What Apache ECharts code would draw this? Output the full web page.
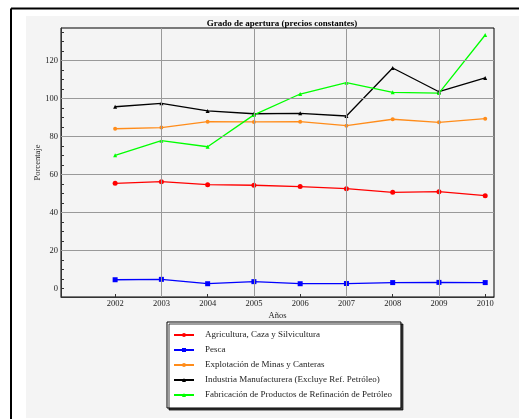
<!DOCTYPE html>
<html><head><meta charset="utf-8">
<script src="https://cdn.jsdelivr.net/npm/echarts@6/dist/echarts.min.js"></script>
<style>html,body{margin:0;padding:0;background:#fff}#c{width:519px;height:419px}</style>
</head><body><div id="c"></div>
<script>
const years = [2002, 2003, 2004, 2005, 2006, 2007, 2008, 2009, 2010];
const seriesNames = [
  'Agricultura, Caza y Silvicultura',
  'Pesca',
  'Explotación de Minas y Canteras',
  'Industria Manufacturera (Excluye Ref. Petróleo)',
  'Fabricación de Productos de Refinación de Petróleo'
];
const agricultura = [55.3, 56.2, 54.6, 54.3, 53.6, 52.5, 50.6, 50.9, 48.8];
const pesca = [4.5, 4.7, 2.4, 3.5, 2.4, 2.5, 3.0, 3.1, 3.0];
const minas = [84.1, 84.7, 87.8, 87.7, 87.8, 85.7, 89.1, 87.5, 89.4];
const industria = [95.7, 97.5, 93.5, 92.0, 92.2, 90.8, 116.1, 103.6, 110.9];
const refinacion = [70.1, 77.8, 74.6, 91.4, 102.4, 108.4, 103.3, 102.9, 133.5];
const yTickLabels = [0, 20, 40, 60, 80, 100, 120];
const yMinorTicks = [0,5,10,15,20,25,30,35,40,45,50,55,60,65,70,75,80,85,90,95,100,105,110,115,120,125,130,135];
const xGridYears = [2003, 2005, 2007, 2009];
const yGridValues = [20, 40, 60, 80, 100, 120];

const colors = ['#ff0000', '#0000ff', '#ff8c1a', '#000000', '#00ff00'];
const symbols = ['circle', 'rect', 'circle', 'triangle', 'triangle'];
const symbolSizes = [5, 5, 4, 4, 4];
const allValues = [agricultura, pesca, minas, industria, refinacion];

const font = "'Liberation Serif', 'DejaVu Serif', serif";
const chart = echarts.init(document.getElementById('c'), null, {renderer: 'canvas'});

const series = allValues.map((vals, i) => ({
  name: seriesNames[i],
  type: 'line',
  data: years.map((y, j) => [y, vals[j]]),
  symbol: symbols[i],
  symbolSize: symbolSizes[i],
  showSymbol: true,
  lineStyle: {color: colors[i], width: 1.3},
  itemStyle: {color: colors[i]},
  z: 3,
  animation: false
}));
series.unshift({
  type: 'line',
  data: [],
  z: 1,
  silent: true,
  animation: false,
  markLine: {
    silent: true,
    symbol: 'none',
    animation: false,
    label: {show: false},
    lineStyle: {color: '#999999', width: 1, type: 'solid'},
    data: xGridYears.map(x => ({xAxis: x})).concat(yGridValues.map(v => ({yAxis: v})))
  }
});

chart.setOption({
  animation: false,
  backgroundColor: '#ffffff',
  graphic: [
    {type: 'rect', z: -10, shape: {x: 26, y: 16, width: 493, height: 402}, style: {fill: '#f4f4f4'}},
    {type: 'line', z: 10, shape: {x1: 11, y1: 8.5, x2: 519, y2: 8.5}, style: {stroke: '#000', lineWidth: 2}},
    {type: 'line', z: 10, shape: {x1: 11, y1: 8.5, x2: 11, y2: 419}, style: {stroke: '#000', lineWidth: 2}}
  ],
  title: {
    text: 'Grado de apertura (precios constantes)',
    left: 277, top: 14, textAlign: 'center',
    textStyle: {fontFamily: font, fontSize: 9, fontWeight: 'bold', color: '#000'}
  },
  grid: {
    left: 61, top: 28, width: 433, height: 269,
    show: true, backgroundColor: '#f4f4f4', borderColor: '#000', borderWidth: 1
  },
  xAxis: {
    type: 'value', min: 2000.83, max: 2010.19,
    name: 'Años', nameLocation: 'middle', nameGap: 14, nameMoveOverlap: false,
    nameTextStyle: {fontFamily: font, fontSize: 8.5, color: '#222'},
    axisLine: {show: true, onZero: false, lineStyle: {color: '#333', width: 1}},
    axisTick: {show: true, inside: true, length: 3, customValues: years, lineStyle: {color: '#333'}},
    axisLabel: {customValues: years, fontFamily: font, fontSize: 8.5, color: '#222', margin: 2, formatter: v => String(Math.round(v))},
    splitLine: {show: false}
  },
  yAxis: {
    type: 'value', min: -4.6, max: 137.2,
    name: 'Porcentaje', nameLocation: 'middle', nameGap: 19, nameMoveOverlap: false,
    nameTextStyle: {fontFamily: font, fontSize: 8.5, color: '#222'},
    axisLine: {show: true, onZero: false, lineStyle: {color: '#333', width: 1}},
    axisTick: {show: true, inside: true, length: 3, customValues: yMinorTicks, lineStyle: {color: '#333'}},
    axisLabel: {customValues: yTickLabels, fontFamily: font, fontSize: 8.5, color: '#222', margin: 3},
    splitLine: {show: false}
  },
  legend: {
    orient: 'vertical',
    left: 167, top: 322,
    data: seriesNames,
    backgroundColor: '#ffffff',
    borderColor: '#000', borderWidth: 1,
    shadowColor: 'rgba(0,0,0,0.75)', shadowBlur: 0, shadowOffsetX: 2, shadowOffsetY: 2,
    padding: [8, 9, 8, 6],
    itemWidth: 20, itemHeight: 5, itemGap: 5,
    textStyle: {fontFamily: font, fontSize: 9, color: '#222', padding: [0, 0, 0, 6], lineHeight: 10},
    selectedMode: false
  },
  series: series
});
</script></body></html>
